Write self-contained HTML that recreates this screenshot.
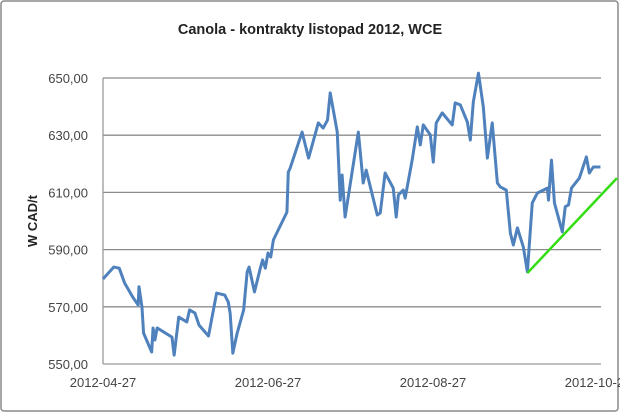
<!DOCTYPE html>
<html><head><meta charset="utf-8"><style>
body{margin:0;background:#fff;}
svg{display:block;font-family:"Liberation Sans",sans-serif;}
</style></head><body>
<svg width="620" height="413" viewBox="0 0 620 413">
<rect x="1" y="1" width="617" height="410" rx="3" fill="#fff" stroke="#8a8a8a" stroke-width="1.5"/>
<text x="310" y="34" text-anchor="middle" font-size="14.5" font-weight="bold" fill="#222">Canola - kontrakty listopad 2012, WCE</text>
<text transform="translate(37,221) rotate(-90)" text-anchor="middle" font-size="13" font-weight="bold" fill="#222">W CAD/t</text>
<g id="grid"></g><g id="yt"></g><g id="xt"></g><g id="series"></g>
</svg>
<script>
const yTicks=[550,570,590,610,630,650];
const yTickLabels=["550,00","570,00","590,00","610,00","630,00","650,00"];
const xTicks=[0,61,122,183];
const xTickLabels=["2012-04-27","2012-06-27","2012-08-27","2012-10-27"];
const days=[0,4,6,8,11,13,13.3,14.4,15,18,18.5,19.2,20,25.5,26.3,28,31,32,34,35.5,39,42,45,46.3,47,48,49.6,52,53.3,54,56,58,59,60,61,62,63,68,68.5,69.2,73.6,76,79.6,81.4,83,84,86.6,87.7,88.4,89.5,94.4,96.2,97.3,101.4,102.5,104.3,107.3,108.4,109.2,111,111.7,114.3,116.2,117.3,118.4,121,122.1,123.2,125.4,129.1,130.2,132.1,134.7,135.8,136.9,138.8,140.6,142.1,143.9,145.8,146.9,149.1,150.6,151.7,153.2,155.4,156.9,158.7,160.6,164.3,164.7,165.8,166.9,169.8,170.9,172.1,173.2,176.1,178.7,179.8,181.3,183.9];
const prices=[579.7,583.9,583.5,578.3,573.4,570.6,577,570,560.8,554.2,562.6,558.4,562.6,559.4,553.1,566.4,564.7,568.9,567.8,563.6,559.8,574.8,574.1,571.7,567.8,553.8,560.8,568.9,582.2,583.9,575.2,582.9,586.4,583.5,588.8,587.4,593.4,603.1,617.1,618.5,631.1,622,634.3,632.5,635.3,644.8,631.1,607.3,616.1,601.4,631.1,613.3,617.8,602.1,602.8,616.8,611.5,601.4,609.1,610.8,608,621.3,632.9,626.6,633.6,630.1,620.6,634.3,637.8,633.6,641.3,640.6,634.6,628.3,641.6,651.7,639.9,622,634.3,613.3,611.9,610.8,595.8,591.6,597.6,590.9,582.2,606.3,609.8,611.5,607.3,621.3,606.3,596.2,605,605.6,611.5,615,622.4,616.8,618.9,618.9];
const trendDays=[156.9,190];
const trendPrices=[581.8,615];
const X=d=>103+d*165/61;
const Y=v=>364-(v-550)*2.86;
const NS="http://www.w3.org/2000/svg";
function mk(t,a,p){const e=document.createElementNS(NS,t);for(const k in a)e.setAttribute(k,a[k]);p.appendChild(e);return e;}
const grid=document.getElementById('grid'),yt=document.getElementById('yt'),xt=document.getElementById('xt'),ser=document.getElementById('series');
yTicks.forEach((v,i)=>{
 const l=mk('line',{x1:103,x2:601,y1:Y(v),y2:Y(v),stroke:i===0?'#9a9a9a':'#8c8c8c','stroke-width':1.3},grid);
 
 
 const t=mk('text',{x:88,y:Y(v)+5,'text-anchor':'end','font-size':13,fill:'#444'},yt);
 t.textContent=yTickLabels[i];
 
 
});
const ax=mk('line',{x1:103,x2:103,y1:Y(650),y2:Y(550),stroke:'#9a9a9a','stroke-width':1.3},grid);


xTicks.forEach((d,i)=>{
 const t=mk('text',{x:X(d),y:387,'text-anchor':'middle','font-size':13,fill:'#444'},xt);
 t.textContent=xTickLabels[i];
 
 
});
const pl=mk('polyline',{points:days.map((d,i)=>X(d)+','+Y(prices[i])).join(' '),fill:'none',stroke:'#4f81bd','stroke-width':3,'stroke-linejoin':'round'},ser);


const tr=mk('line',{x1:X(trendDays[0]),y1:Y(trendPrices[0]),x2:X(trendDays[1]),y2:Y(trendPrices[1]),stroke:'#33dd11','stroke-width':2.5},ser);


</script>
</body></html>
